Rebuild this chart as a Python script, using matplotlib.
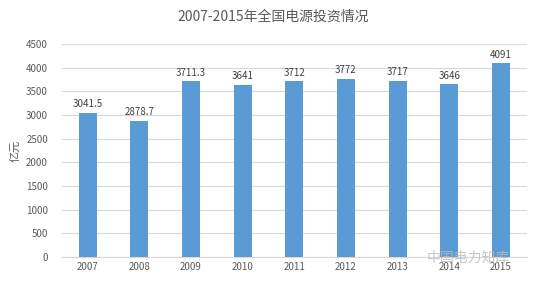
import matplotlib.pyplot as plt
import numpy as np

plt.rcParams['font.family'] = ['Noto Sans CJK SC', 'DejaVu Sans']

years = ['2007', '2008', '2009', '2010', '2011', '2012', '2013', '2014', '2015']
invest = [3041.5, 2878.7, 3711.3, 3641, 3712, 3772, 3717, 3646, 4091]
labels = ['3041.5', '2878.7', '3711.3', '3641', '3712', '3772', '3717', '3646', '4091']

fig = plt.figure(figsize=(5.47, 2.86), dpi=100)
ax = fig.add_axes([0.113, 0.101, 0.85, 0.745])

x = np.arange(len(years))
ax.bar(x, invest, width=0.35, color='#5B9BD5', zorder=3)
for xi, v, lab in zip(x, invest, labels):
    ax.text(xi, v + 80, lab, ha='center', va='bottom', fontsize=7, color='#404040')

ax.set_xlim(-0.5, len(years) - 0.5)
ax.set_ylim(0, 4500)
ax.set_yticks(np.arange(0, 4501, 500))
ax.set_xticks(x)
ax.set_xticklabels(years)
ax.tick_params(axis='both', length=0, labelsize=7, colors='#595959')
ax.tick_params(axis='y', pad=10)
ax.grid(axis='y', color='#D9D9D9', linewidth=0.8, zorder=0)
for s in ['top', 'right', 'left']:
    ax.spines[s].set_visible(False)
ax.spines['bottom'].set_color('#D9D9D9')
ax.set_ylabel('亿元', fontsize=8, color='#595959', labelpad=4)

fig.text(0.5, 0.94, '2007-2015年全国电源投资情况', ha='center', va='center',
         fontsize=10, color='#595959')
fig.text(0.78, 0.1, '中国电力知库', ha='left', va='center', fontsize=10,
         color='#BBBBBB', alpha=0.8)

fig.savefig('out.png', dpi=100)
